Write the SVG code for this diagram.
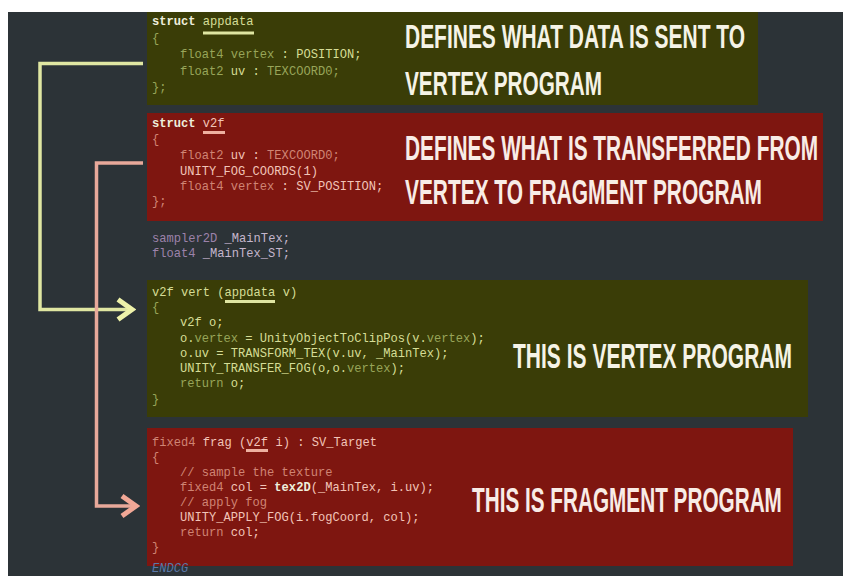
<svg xmlns="http://www.w3.org/2000/svg" width="843" height="576" viewBox="0 0 843 576">
<style>
.code{font-family:"Liberation Mono","DejaVu Sans Mono",monospace;font-size:12.1px;white-space:pre}
.big{font-family:"Liberation Sans","Arial",sans-serif;font-weight:bold;fill:#f5f3e6}
.bigr{fill:#f8ece6}
.ol{fill:#3a3d07}
.rd{fill:#7e1610}
.ya{fill:#d6dd96}
.yd{fill:#98a559}
.yw{fill:#eeeedc;font-weight:bold}
.ra{fill:#f2c4b8}
.rdim{fill:#d08474}
.pa{fill:#9c82aa}
.pb{fill:#c4b6cc}
.conn{fill:none;stroke-width:3.5}
.uy{stroke:#dfe6a2;stroke-width:3}
.ur{stroke:#eeb0a0;stroke-width:3}
</style>
<defs>
<marker id="arrY" markerUnits="userSpaceOnUse" viewBox="0 0 22 26" refX="19" refY="13" markerWidth="22" markerHeight="26" orient="auto">
<path d="M4,3 L18,13 L4,23" fill="none" stroke="#eef2aa" stroke-width="5"/>
</marker>
<marker id="arrP" markerUnits="userSpaceOnUse" viewBox="0 0 22 26" refX="19" refY="13" markerWidth="22" markerHeight="26" orient="auto">
<path d="M4,3 L18,13 L4,23" fill="none" stroke="#f2a896" stroke-width="5"/>
</marker>
</defs>
<rect x="0" y="0" width="843" height="576" fill="#ffffff"/>
<rect x="8" y="12" width="835" height="564" fill="#2c3337"/>

<g id="appdata-block">
<rect class="ol" x="147" y="12" width="611" height="93"/>
<text class="code" x="152" y="25"><tspan class="yw">struct</tspan> <tspan class="ya">appdata</tspan></text>
<line class="uy" x1="203" y1="33" x2="254" y2="33"/>
<text class="code yd" x="152" y="41.5">{</text>
<text class="code" x="180" y="58"><tspan class="yd">float4 vertex</tspan><tspan class="ya"> : POSITION;</tspan></text>
<text class="code" x="180" y="74.5"><tspan class="yd">float2 </tspan><tspan class="ya">uv : </tspan><tspan class="yd">TEXCOORD0;</tspan></text>
<text class="code yd" x="152" y="91">};</text>
<text class="big" transform="translate(405,48) scale(0.624,1)" font-size="33" textLength="545" lengthAdjust="spacingAndGlyphs">DEFINES WHAT DATA IS SENT TO</text>
<text class="big" transform="translate(405,95) scale(0.628,1)" font-size="33" textLength="313.7" lengthAdjust="spacingAndGlyphs">VERTEX PROGRAM</text>
</g>

<g id="v2f-block">
<rect class="rd" x="147" y="113" width="676" height="108"/>
<text class="code" x="152" y="127"><tspan class="yw">struct</tspan> <tspan class="ra">v2f</tspan></text>
<line class="ur" x1="203" y1="132.5" x2="225" y2="132.5"/>
<text class="code rdim" x="152" y="143">{</text>
<text class="code" x="180" y="159"><tspan class="rdim">float2 </tspan><tspan class="ra">uv : </tspan><tspan class="rdim">TEXCOORD0;</tspan></text>
<text class="code ra" x="180" y="174.5">UNITY_FOG_COORDS(1)</text>
<text class="code" x="180" y="190"><tspan class="rdim">float4 vertex</tspan><tspan class="ra"> : SV_POSITION;</tspan></text>
<text class="code rdim" x="152" y="205">};</text>
<text class="big bigr" transform="translate(405,160) scale(0.593,1)" font-size="35" textLength="696.5" lengthAdjust="spacingAndGlyphs">DEFINES WHAT IS TRANSFERRED FROM</text>
<text class="big bigr" transform="translate(405,204) scale(0.596,1)" font-size="35" textLength="599" lengthAdjust="spacingAndGlyphs">VERTEX TO FRAGMENT PROGRAM</text>
</g>

<g id="globals">
<text class="code" x="152" y="242"><tspan class="pa">sampler2D</tspan><tspan class="pb"> _MainTex;</tspan></text>
<text class="code" x="152" y="257"><tspan class="pa">float4</tspan><tspan class="pb"> _MainTex_ST;</tspan></text>
</g>

<g id="vert-block">
<rect class="ol" x="147" y="280" width="661" height="137"/>
<text class="code ya" x="152" y="296">v2f vert (appdata v)</text>
<line class="uy" x1="225" y1="301.5" x2="275" y2="301.5"/>
<text class="code yd" x="152" y="311">{</text>
<text class="code ya" x="180" y="326">v2f o;</text>
<text class="code" x="180" y="342"><tspan class="ya">o.</tspan><tspan class="yd">vertex</tspan><tspan class="ya"> = UnityObjectToClipPos(v.</tspan><tspan class="yd">vertex</tspan><tspan class="ya">);</tspan></text>
<text class="code ya" x="180" y="357">o.uv = TRANSFORM_TEX(v.uv, _MainTex);</text>
<text class="code" x="180" y="372"><tspan class="ya">UNITY_TRANSFER_FOG(o,o.</tspan><tspan class="yd">vertex</tspan><tspan class="ya">);</tspan></text>
<text class="code" x="180" y="387"><tspan class="yd">return </tspan><tspan class="ya">o;</tspan></text>
<text class="code yd" x="152" y="403">}</text>
<text class="big" transform="translate(513,368) scale(0.6,1)" font-size="35" textLength="465" lengthAdjust="spacingAndGlyphs">THIS IS VERTEX PROGRAM</text>
</g>

<g id="frag-block">
<rect class="rd" x="147" y="428" width="646" height="138"/>
<text class="code" x="152" y="446"><tspan class="rdim">fixed4 </tspan><tspan class="ra">frag (v2f i) : SV_Target</tspan></text>
<line class="ur" x1="246" y1="450.5" x2="268" y2="450.5"/>
<text class="code rdim" x="152" y="461">{</text>
<text class="code rdim" x="180" y="476">// sample the texture</text>
<text class="code" x="180" y="491"><tspan class="rdim">fixed4 </tspan><tspan class="ra">col = </tspan><tspan class="yw">tex2D</tspan><tspan class="ra">(_MainTex, i.uv);</tspan></text>
<text class="code rdim" x="180" y="506">// apply fog</text>
<text class="code ra" x="180" y="521">UNITY_APPLY_FOG(i.fogCoord, col);</text>
<text class="code" x="180" y="535.5"><tspan class="rdim">return </tspan><tspan class="ra">col;</tspan></text>
<text class="code rdim" x="152" y="551">}</text>
<text class="big bigr" transform="translate(472,512) scale(0.576,1)" font-size="36" textLength="538" lengthAdjust="spacingAndGlyphs">THIS IS FRAGMENT PROGRAM</text>
</g>

<g id="endcg">
<text class="code" x="152" y="572" fill="#5a78a8" font-style="italic" font-size="10.5px">ENDCG</text>
</g>

<g id="connectors">
<path class="conn" d="M143,63.5 H40 V309.5 H133" stroke="#e0e7a2" marker-end="url(#arrY)"/>
<path class="conn" d="M143,163 H96.5 V506 H137" stroke="#e8a99a" marker-end="url(#arrP)"/>
</g>
</svg>
